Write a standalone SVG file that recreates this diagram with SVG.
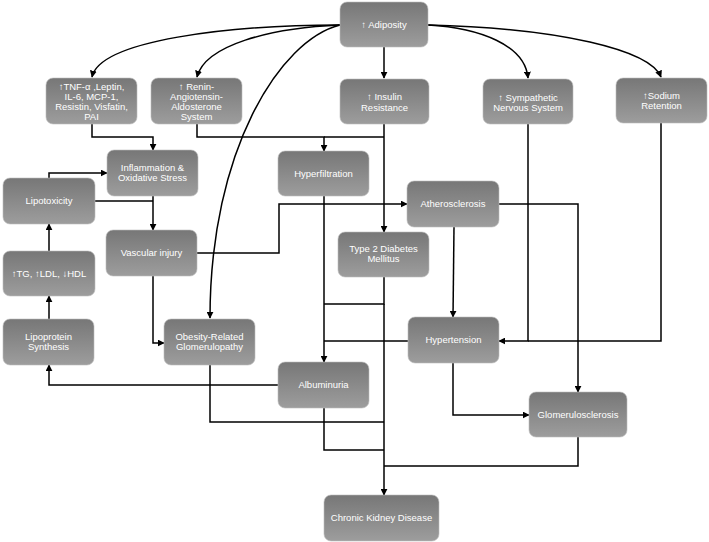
<svg xmlns="http://www.w3.org/2000/svg" width="709" height="542" viewBox="0 0 709 542">
<defs>
<linearGradient id="g" x1="0" y1="0" x2="0" y2="1">
<stop offset="0" stop-color="#777777"/>
<stop offset="1" stop-color="#9d9d9d"/>
</linearGradient>
<marker id="a" viewBox="0 0 10 10" refX="9" refY="5" markerWidth="7" markerHeight="7" markerUnits="userSpaceOnUse" orient="auto">
<path d="M0,0 L10,5 L0,10 Z" fill="#000"/>
</marker>
</defs>
<style>
.n rect{fill:url(#g);stroke:#bdbdbd;stroke-width:0.6}
.n text{fill:#fff;font-family:"Liberation Sans",Arial,sans-serif;font-size:9.5px;text-anchor:middle}
#edges path{fill:none;stroke:#000;stroke-width:1.5}
.ar{marker-end:url(#a)}
</style>
<rect width="709" height="542" fill="#fff"/>
<g id="edges">
<path class="ar" d="M340,25 C230,25 100,40 92,77"/>
<path class="ar" d="M340,25 C270,28 205,45 197,77"/>
<path class="ar" d="M340,25 C280,40 210,150 210,318"/>
<path class="ar" d="M384,47 V78"/>
<path class="ar" d="M428,25 C480,28 525,45 528,78"/>
<path class="ar" d="M428,25 C560,28 650,50 661,77"/>
<path class="ar" d="M92,124 V137 H153 V150"/>
<path class="ar" d="M197,124 V137 H324 V151"/>
<path d="M324,137 H384"/>
<path class="ar" d="M384,124 V232"/>
<path class="ar" d="M49,178 V173 H107"/>
<path d="M95,201 H153"/>
<path class="ar" d="M153,196 V230"/>
<path class="ar" d="M49,251 V224"/>
<path class="ar" d="M49,319 V296"/>
<path class="ar" d="M197,253 H279 V204 H407"/>
<path class="ar" d="M153,276 V343 H164"/>
<path class="ar" d="M324,196 V362"/>
<path d="M384,277 V304 H324"/>
<path d="M408,341 H324"/>
<path class="ar" d="M384,304 V495"/>
<path d="M210,365 V422 H384"/>
<path d="M324,408 V450 H384"/>
<path d="M578,437 V466 H384"/>
<path class="ar" d="M278,385 H49 V365"/>
<path class="ar" d="M454,227 L453,317"/>
<path class="ar" d="M499,204 H578 V392"/>
<path class="ar" d="M528,124 V341 H499"/>
<path d="M661,123 V341 H528"/>
<path class="ar" d="M453,363 V415 H529"/>
</g>
<g id="adiposity" class="n"><rect x="340" y="2" width="88" height="45" rx="7"/><text x="384" y="28">↑ Adiposity</text></g>
<g id="tnf" class="n"><rect x="46" y="78" width="91" height="46" rx="7"/><text x="91.5" y="90">↑TNF-α ,Leptin,</text><text x="91.5" y="100">IL-6, MCP-1,</text><text x="91.5" y="110">Resistin, Visfatin,</text><text x="91.5" y="120">PAI</text></g>
<g id="raas" class="n"><rect x="151" y="78" width="91" height="46" rx="7"/><text x="196.5" y="90">↑ Renin-</text><text x="196.5" y="100">Angiotensin-</text><text x="196.5" y="110">Aldosterone</text><text x="196.5" y="120">System</text></g>
<g id="insulin" class="n"><rect x="340" y="79" width="89" height="45" rx="7"/><text x="384.5" y="100">↑ Insulin</text><text x="384.5" y="111">Resistance</text></g>
<g id="sns" class="n"><rect x="483" y="79" width="90" height="45" rx="7"/><text x="528" y="101">↑ Sympathetic</text><text x="528" y="111">Nervous System</text></g>
<g id="sodium" class="n"><rect x="616" y="78" width="91" height="45" rx="7"/><text x="661.5" y="99">↑Sodium</text><text x="661.5" y="109">Retention</text></g>
<g id="inflammation" class="n"><rect x="107" y="150" width="91" height="46" rx="7"/><text x="152.5" y="171">Inflammation &amp;</text><text x="152.5" y="181">Oxidative Stress</text></g>
<g id="hyperfiltration" class="n"><rect x="278" y="151" width="91" height="45" rx="7"/><text x="323.5" y="177">Hyperfiltration</text></g>
<g id="lipotoxicity" class="n"><rect x="3" y="178" width="92" height="46" rx="7"/><text x="49" y="204">Lipotoxicity</text></g>
<g id="vascular" class="n"><rect x="106" y="230" width="91" height="46" rx="7"/><text x="151.5" y="256">Vascular injury</text></g>
<g id="lipids" class="n"><rect x="3" y="251" width="92" height="45" rx="7"/><text x="49" y="277">↑TG, ↑LDL, ↓HDL</text></g>
<g id="atherosclerosis" class="n"><rect x="407" y="181" width="92" height="46" rx="7"/><text x="453" y="207">Atherosclerosis</text></g>
<g id="diabetes" class="n"><rect x="338" y="232" width="91" height="45" rx="7"/><text x="383.5" y="252">Type 2 Diabetes</text><text x="383.5" y="262">Mellitus</text></g>
<g id="lipoprotein" class="n"><rect x="3" y="319" width="91" height="46" rx="7"/><text x="48.5" y="340">Lipoprotein</text><text x="48.5" y="350">Synthesis</text></g>
<g id="org" class="n"><rect x="164" y="319" width="91" height="46" rx="7"/><text x="209.5" y="340">Obesity-Related</text><text x="209.5" y="350">Glomerulopathy</text></g>
<g id="albuminuria" class="n"><rect x="278" y="362" width="91" height="46" rx="7"/><text x="323.5" y="388">Albuminuria</text></g>
<g id="hypertension" class="n"><rect x="408" y="317" width="91" height="46" rx="7"/><text x="453.5" y="343">Hypertension</text></g>
<g id="glomerulosclerosis" class="n"><rect x="529" y="392" width="98" height="45" rx="7"/><text x="578" y="418">Glomerulosclerosis</text></g>
<g id="ckd" class="n"><rect x="324" y="495" width="115" height="46" rx="7"/><text x="381.5" y="521">Chronic Kidney Disease</text></g>
</svg>
